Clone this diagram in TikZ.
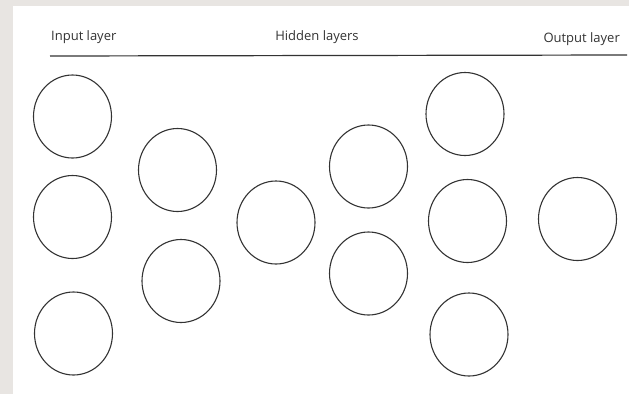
\documentclass[tikz,border=0pt]{standalone}
\usepackage{fontspec}
\setmainfont{Open Sans}
\usetikzlibrary{shapes.geometric}
\definecolor{frame-grey}{HTML}{E8E5E2}
\definecolor{ink}{HTML}{333333}

\begin{document}
\begin{tikzpicture}[x=1pt, y=-1pt,
        every node/.style={font=\fontsize{13}{15}\selectfont, text=ink},
        neuron/.style={draw=ink, line width=1.1pt, ellipse, inner sep=0pt,
            minimum width=78pt, minimum height=83pt}]
      \useasboundingbox (0,0) rectangle (629,394);
      \fill[frame-grey] (0,0) rectangle (629,394);
      \fill[white] (13,6) rectangle (629,394);
      % titles and rule
      \node[anchor=base west, inner sep=0pt] (INLBL) at (51,40) {Input layer};
      \node[anchor=base, inner sep=0pt] (HIDLBL) at (317,40) {Hidden layers};
      \node[anchor=base east, inner sep=0pt] (OUTLBL) at (620,42) {Output layer};
      \coordinate (RULEL) at (50,56);
      \coordinate (RULER) at (627,55);
      \draw[ink, line width=1.2pt] (RULEL) -- (RULER);
      % input layer
      \node[neuron] (IN1) at (72.5,116.5) {};
      \node[neuron] (IN2) at (72.5,217) {};
      \node[neuron] (IN3) at (73.5,333.5) {};
      % hidden layers
      \node[neuron] (HA1) at (177.5,170) {};
      \node[neuron] (HA2) at (181,281) {};
      \node[neuron] (HB1) at (276,222.5) {};
      \node[neuron] (HC1) at (368.5,166.5) {};
      \node[neuron] (HC2) at (368.5,273.5) {};
      \node[neuron] (HD1) at (465,114) {};
      \node[neuron] (HD2) at (467.5,221) {};
      \node[neuron] (HD3) at (469,334.5) {};
      % output layer
      \node[neuron] (OUT1) at (577.5,219) {};
    \end{tikzpicture}
\end{document}
